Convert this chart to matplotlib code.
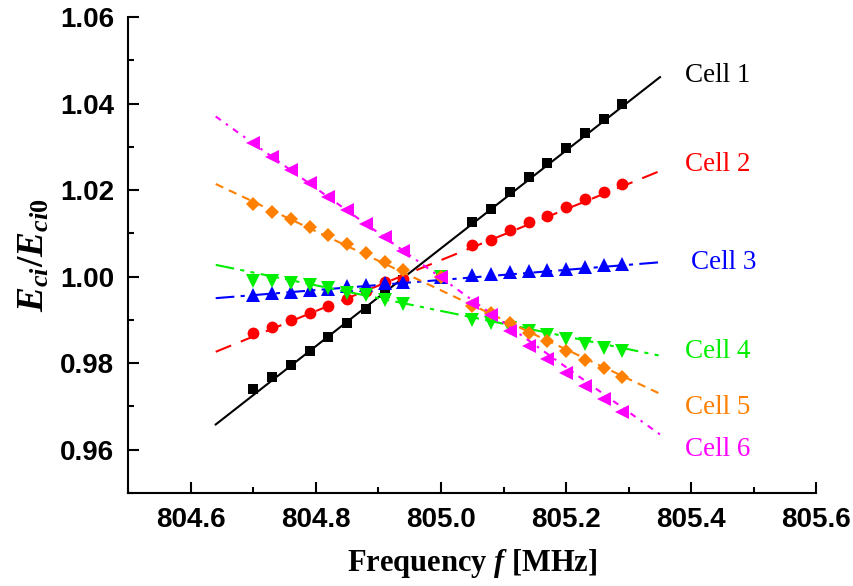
import numpy as np
import matplotlib
matplotlib.use('Agg')
import matplotlib.pyplot as plt

plt.rcParams['mathtext.fontset'] = 'custom'
plt.rcParams['mathtext.rm'] = 'Liberation Serif:bold'
plt.rcParams['mathtext.it'] = 'Liberation Serif:italic:bold'
plt.rcParams['mathtext.bf'] = 'Liberation Serif:bold'

# measured frequencies [MHz]
freq = [804.70, 804.73, 804.76, 804.79, 804.82, 804.85, 804.88, 804.91, 804.94,
        805.00,
        805.05, 805.08, 805.11, 805.14, 805.17, 805.20, 805.23, 805.26, 805.29]

cell1 = [0.9739, 0.9767, 0.9796, 0.9829, 0.9860, 0.9893, 0.9925, 0.9962, 0.9992,
         1.0000,
         1.0127, 1.0156, 1.0195, 1.0229, 1.0262, 1.0297, 1.0331, 1.0364, 1.0398]
cell2 = [0.9870, 0.9883, 0.9899, 0.9916, 0.9931, 0.9948, 0.9966, 0.9987, 0.9995,
         1.0000,
         1.0072, 1.0085, 1.0108, 1.0125, 1.0141, 1.0161, 1.0179, 1.0195, 1.0214]
cell3 = [0.9957, 0.9962, 0.9964, 0.9968, 0.9971, 0.9977, 0.9980, 0.9985, 0.9987,
         1.0000,
         1.0003, 1.0006, 1.0010, 1.0012, 1.0016, 1.0018, 1.0023, 1.0027, 1.0029]
cell4 = [0.9989, 0.9989, 0.9985, 0.9980, 0.9973, 0.9963, 0.9958, 0.9946, 0.9937,
         1.0000,
         0.9900, 0.9892, 0.9882, 0.9873, 0.9866, 0.9856, 0.9844, 0.9835, 0.9827]
cell5 = [1.0168, 1.0150, 1.0134, 1.0114, 1.0095, 1.0075, 1.0054, 1.0033, 1.0014,
         1.0000,
         0.9933, 0.9916, 0.9893, 0.9869, 0.9850, 0.9829, 0.9808, 0.9789, 0.9768]
cell6 = [1.0308, 1.0277, 1.0247, 1.0216, 1.0185, 1.0153, 1.0122, 1.0091, 1.0060,
         1.0000,
         0.9939, 0.9912, 0.9873, 0.9840, 0.9810, 0.9777, 0.9748, 0.9716, 0.9686]

# fitted lines (end points)
fit_x = [804.64, 805.35]
fit1 = [0.9658, 1.0461]
fit2 = [0.9826, 1.0244]
fit3 = [0.9950, 1.0033]
fit4 = [1.0027, 0.9817]
fit5 = [1.0214, 0.9729]
fit6 = [1.0370, 0.9635]

labels = ['Cell 1', 'Cell 2', 'Cell 3', 'Cell 4', 'Cell 5', 'Cell 6']
label_y = [1.0464, 1.0258, 1.0032, 0.9826, 0.9697, 0.9600]

colors = ['black', '#ff0000', '#0000ff', '#00ee00', '#ff8000', '#ff00ff']
markers = ['s', 'o', '^', 'v', 'D', '<']
msizes = [7.5, 8.5, 9.5, 9.5, 7.5, 9.5]
dashes = [(None, None), (8, 5), (9, 3, 2, 3), (9, 3, 2, 3, 2, 3), (4, 3), (3, 3, 1.2, 3)]

data = [cell1, cell2, cell3, cell4, cell5, cell6]
fits = [fit1, fit2, fit3, fit4, fit5, fit6]

fig = plt.figure(figsize=(8.54, 5.86), dpi=100)
ax = fig.add_axes([0.150, 0.159, 0.806, 0.812])

for i in range(6):
    ln, = ax.plot(fit_x, fits[i], color=colors[i], lw=1.5)
    if i > 0:
        ln.set_dashes(dashes[i])
    ax.plot(freq, data[i], linestyle='none', marker=markers[i], ms=msizes[i],
            color=colors[i], markeredgewidth=0)

for i in range(6):
    xl = 805.40 if i == 2 else 805.39
    ax.text(xl, label_y[i], labels[i], color=colors[i], fontsize=19.5,
            family='Liberation Serif', va='center', ha='left')

ax.set_xlim(804.5, 805.6)
ax.set_ylim(0.95, 1.06)
ax.set_xticks([804.6, 804.8, 805.0, 805.2, 805.4, 805.6])
ax.set_xticks(np.arange(804.5, 805.61, 0.1), minor=True)
ax.set_yticks([0.96, 0.98, 1.00, 1.02, 1.04, 1.06])
ax.set_yticks(np.arange(0.95, 1.061, 0.01), minor=True)
ax.xaxis.set_major_formatter(matplotlib.ticker.FormatStrFormatter('%.1f'))
ax.yaxis.set_major_formatter(matplotlib.ticker.FormatStrFormatter('%.2f'))

ax.spines['top'].set_visible(False)
ax.spines['right'].set_visible(False)
ax.spines['left'].set_linewidth(1.5)
ax.spines['bottom'].set_linewidth(1.5)
ax.tick_params(which='major', direction='in', length=8, width=1.5, pad=10)
ax.tick_params(which='minor', direction='in', length=4, width=1.5)
for lab in ax.get_xticklabels() + ax.get_yticklabels():
    lab.set_fontfamily('Liberation Sans')
    lab.set_fontweight('bold')
    lab.set_fontsize(20)

ax.set_xlabel(r'Frequency $f$ [MHz]', fontsize=22, family='Liberation Serif',
              fontweight='bold', labelpad=10)
ax.set_ylabel(r'$E_{ci}/E_{ci0}$', fontsize=27, labelpad=6)

fig.savefig('out.png', dpi=100)
